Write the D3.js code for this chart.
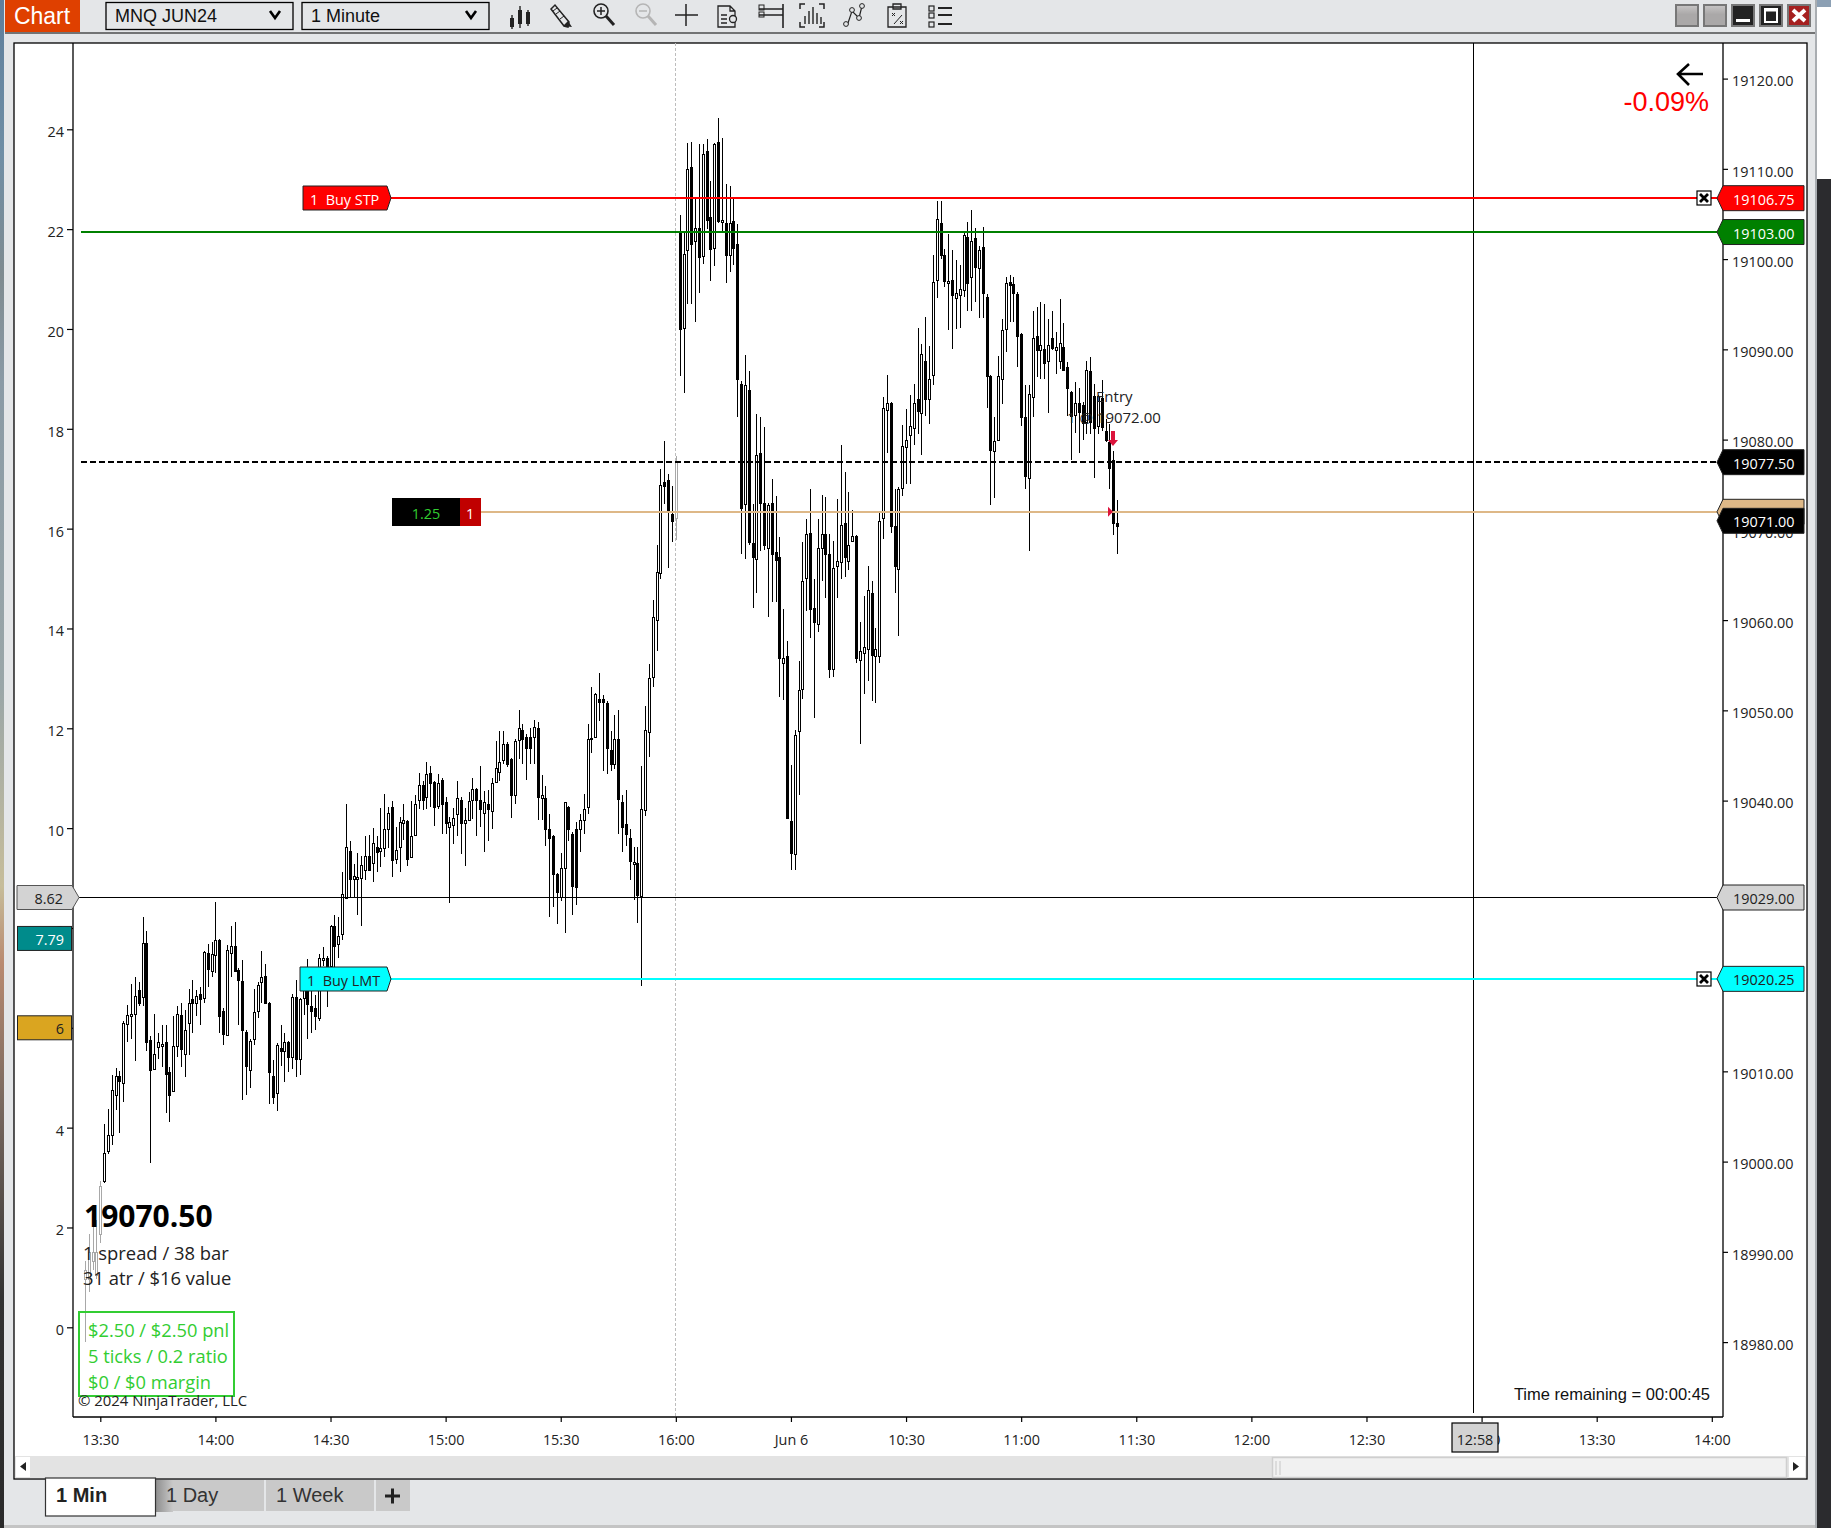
<!DOCTYPE html>
<html>
<head>
<meta charset="utf-8">
<title>MNQ JUN24</title>
<script src="https://cdn.jsdelivr.net/npm/d3@7"></script>
<style>
html,body{margin:0;padding:0;background:#e4e6e8;overflow:hidden}
svg{display:block}
text{font-family:"Open Sans",sans-serif;dominant-baseline:central}
.arial{font-family:"Liberation Sans",Arial,sans-serif}
</style>
</head>
<body>
<svg id="c" width="1831" height="1528"></svg>
<script>
// Values. Bar k of each array is bar number k-4 counted from the 13:30 bar.
const barOpen = [
18987,18987,18989,18987.5,18992,18997.8,19001.2,19002.9,19007.4,19009.5,
19008.7,19015.2,19016.1,19016.4,19019,19018.2,19024.2,19013.5,19010.2,19012.6,
19012.8,19013.2,19009.9,19007.8,19012.8,19016.2,19011.9,19015.4,19018,19017.6,
19018.6,19018.1,19023.1,19021.1,19022.9,19024.6,19016.7,19014,19023.1,19023.9,
19021.2,19020,19014.4,19010.2,19013.6,19016.7,19019.9,19020.6,19017.6,19009.5,
19007.6,19012.6,19012.2,19013.3,19011.6,19018.2,19011.4,19018.1,19019,19017.2,
19017,19016,19022.4,19022.6,19021.7,19026.1,19024.1,19025.2,19029.3,19034.4,
19031.3,19031.3,19031.5,19032.3,19033.9,19033.1,19034.9,19034.5,19034.8,19036.8,
19039.3,19033.5,19034.8,19037.6,19037.7,19033.8,19036.2,19040,19041.7,19040.3,
19043.1,19042.1,19039.4,19042.3,19039.9,19037.1,19037.3,19038.5,19040.1,19037.6,
19037.9,19040.1,19041.3,19040.1,19038.6,19039.6,19038.8,19042,19043.2,19044.5,
19046.3,19044.6,19040.6,19046.7,19047.8,19047,19047,19047.1,19048,19040.3,
19040.3,19036.9,19036.1,19031.9,19029.3,19032.5,19039.3,19036.3,19036.9,19036.9,
19037.9,19039.3,19046.8,19047,19051.3,19051.3,19050.8,19045.6,19044,19046.8,
19039.9,19037.4,19035.9,19033,19033.1,19029.5,19038.9,19047.6,19053.6,19060,
19065.3,19075.3,19075.5,19071.8,19071.3,19103,19092.4,19101,19110.2,19102,
19103.4,19100.4,19112,19104.7,19101.2,19113,19104.1,19104,19100.4,19104.2,
19101.7,19086.2,19072.8,19085.5,19068.5,19066.8,19078.5,19073,19068,19073,
19067.6,19067,19055.3,19056,19037.7,19034.1,19047.8,19052.3,19064.6,19069.7,
19061.3,19059.6,19068,19069.5,19067.3,19054.6,19066,19066.4,19070.8,19066.5,
19068.7,19069.3,19055.6,19056.3,19056.8,19063,19056,19056,19071.3,19083.3,
19084.1,19070.4,19065.6,19074.7,19079.2,19080.5,19081.3,19084.5,19083,19088.7,
19084.5,19087.2,19097.6,19104,19100.5,19097.4,19097.7,19095.7,19096,19096.6,
19102.5,19098,19102.3,19099,19101.3,19095.8,19087.1,19078.7,19080,19086.7,
19092.2,19097.5,19097.2,19096.1,19091.7,19082.5,19075.8,19084.8,19091.5,19090,
19090,19088.7,19091.3,19090,19088.7,19090.3,19088,19085.3,19082.7,19084,
19083.8,19081.9,19087.6,19084.8,19081.5,19084.6,19081,19079.7,19077.7,19070.8];
const barHigh = [
18989,18992,18993,18993.5,18997.8,19004.2,19005.8,19009.6,19010.4,19010,
19015.6,19017.3,19019.7,19020.5,19019.9,19027.1,19025.5,19013.9,19016.4,19014.2,
19015.1,19015.1,19010.5,19016.1,19017.2,19017.6,19016.8,19019.1,19020.1,19019,
19019.4,19023.3,19024.1,19024.3,19028.8,19024.7,19017,19024,19026.1,19026.5,
19021.4,19022.3,19014.6,19013.6,19019.1,19019.9,19023.3,19021.9,19017.7,19011.3,
19013.1,19015.1,19014.3,19013.4,19018.6,19020.1,19018.1,19021,19022.5,19019,
19018.5,19023,19023.8,19022.8,19026.2,19027.3,19027.1,19032.1,19039.6,19035.5,
19033,19034.2,19033.9,19036.1,19036.2,19037,19036.1,19039.2,19040.7,19039.3,
19040,19037.1,19038.2,19039.6,19037.8,19040,19040.6,19043.1,19042.2,19044.3,
19043.8,19042.2,19043,19042.5,19040.4,19038.2,19039.2,19042.2,19040.4,19039.2,
19041,19042.5,19041.4,19043.8,19041.1,19041.2,19042.5,19046.6,19047.7,19047.7,
19046.5,19044.7,19046.8,19050,19048.5,19047.4,19048,19048.9,19048.7,19042.8,
19041.6,19038.5,19036.2,19032,19034.2,19039.9,19039.4,19036.5,19037.6,19038.5,
19040.7,19048.5,19052.6,19051.9,19054.1,19051.7,19051,19047.7,19049.5,19050,
19040.6,19041.2,19036.8,19034.9,19034.9,19043.8,19050.5,19055.1,19062.2,19068.3,
19076.7,19079.9,19076.2,19074.9,19078.2,19104.9,19103,19112.9,19113,19106.7,
19112.7,19112.8,19113.3,19108.7,19112.9,19115.6,19113.4,19108.3,19108.1,19106.8,
19103.9,19086.5,19089.4,19087.6,19072.9,19082.8,19082.5,19081.4,19073,19075.6,
19073.7,19069.2,19061.2,19057.7,19044,19047.8,19055.5,19068.7,19071.2,19074.5,
19064.5,19071.2,19073.9,19073.6,19069.5,19068.8,19073.4,19079.4,19076.4,19074.2,
19072.2,19069.4,19059.8,19062.7,19066,19064.3,19059.1,19072,19084.7,19087.2,
19084.2,19074.5,19074.7,19081.6,19083.4,19084.9,19086.2,19092.4,19090.6,19093.6,
19090.4,19100.4,19106.4,19106.4,19101.1,19102.8,19101,19099.9,19099.3,19103,
19104.1,19105.4,19103.5,19101.4,19103.6,19096.1,19087.2,19082.5,19089.3,19093.4,
19098,19098.2,19098,19096.3,19091.8,19086,19086,19094.2,19094.7,19095.2,
19095,19093.4,19094.2,19091.9,19095.6,19092.9,19088.6,19085.4,19086.4,19085.7,
19084.2,19088.7,19089.2,19086.2,19084.9,19086.6,19082.3,19081.7,19078.7,19073.3];
const barLow = [
18980,18985.5,18988,18987,18991,18997.6,19000.8,19001.8,19005.7,19003.2,
19006.6,19013.2,19013.6,19011.2,19017.2,19017.2,19012.2,18999.9,19010.1,19011.4,
19010.5,19005.4,19004.4,19007.7,19011.6,19010.5,19009.4,19011.8,19014.3,19016.1,
19015.1,19017.6,19019.4,19020.4,19020.9,19014.2,19012.9,19013.9,19020.4,19021,
19015.1,19006.8,19007.4,19008.1,19012.9,19015.9,19017.6,19017.5,19006.4,19006.4,
19005.6,19010.6,19008.8,19009.9,19010.3,19009.4,19009.6,19016.2,19013.6,19014.2,
19014.6,19015.6,19021.7,19017.1,19021.5,19021.6,19022.6,19024.5,19029.2,19029.3,
19029.3,19027.3,19026.1,19031.2,19032.2,19031,19032.1,19032.6,19033.7,19034.8,
19031.5,19033,19032.1,19035.6,19032.8,19033.7,19036.1,19039.1,19039,19039.1,
19039.3,19037.2,19039.1,19036.3,19036.3,19028.6,19035.2,19036.1,19034.1,19032.8,
19037.8,19038,19036.1,19037.1,19034.3,19035.5,19036.8,19041.9,19042.2,19044.1,
19043.7,19038.1,19039.6,19044.6,19044.1,19042.3,19044.1,19044.1,19037.8,19037.9,
19035,19027.1,19028.2,19026.3,19028.9,19025.3,19035.5,19027.3,19028.4,19034.3,
19036.3,19038.5,19045.3,19046.9,19048.8,19043.3,19043,19043.3,19043.5,19036.3,
19034.3,19035,19031.2,19029,19026.4,19019.5,19038.3,19044.8,19052.6,19056.6,
19064.5,19072.9,19065.8,19068.7,19068.9,19087,19085.2,19095,19095,19093,
19096.2,19099.5,19103.3,19097.6,19099.2,19104,19103,19097.4,19098.6,19099.4,
19082.5,19067.3,19066.8,19068.3,19061.3,19063,19067.7,19067.8,19060.3,19062,
19062,19051.5,19051.1,19038,19032.3,19032.3,19040.6,19051.3,19061,19058,
19049.1,19058.7,19064.3,19062.5,19053.6,19053.7,19062.5,19064.6,19064.8,19065.5,
19068.6,19055.2,19046.3,19051.8,19053.2,19051,19050.8,19055.2,19069,19078.5,
19069.6,19063,19058.2,19073.7,19075.1,19075.1,19079.4,19080.6,19078.3,19082.6,
19081.7,19086,19095.7,19100,19096.9,19092.1,19090,19092.3,19092.4,19095.8,
19094.2,19094.2,19095.2,19093.5,19093.5,19083.5,19072.7,19073.5,19079.8,19084,
19089.7,19093,19093,19088,19081.5,19074.5,19067.7,19082.5,19086.9,19086.7,
19086.7,19083,19089.9,19087.3,19087.8,19087.6,19082.6,19077.7,19080.7,19078.5,
19080,19080.6,19080.6,19075.7,19080.6,19080.9,19079.7,19074.5,19069.4,19067.3];
const barClose = [
18988,18990,18990,18990,18997.3,19000.9,19003,19007.9,19009.5,19008.9,
19015.4,19016.2,19016.3,19018.4,19017.6,19024.2,19013.2,19010.2,19011.9,19013.2,
19013,19009.7,19007.4,19012.8,19016.4,19012.4,19014.6,19017.6,19017.6,19018.4,
19018.1,19023.2,19021.3,19023,19024.6,19016.2,19014.1,19023.4,19023.9,19021.1,
19020.1,19014.6,19010.6,19013.4,19016.6,19019.6,19020.4,19017.6,19009.9,19007.2,
19012.9,19012.3,19013.2,19011.6,19018.2,19011.3,19018,19020,19017.4,19016.6,
19016.1,19022.6,19022.6,19021.7,19026.1,19023.9,19025,19029.6,19034.9,19031.3,
19031.6,19031.5,19032.9,19033.9,19032.3,19035.3,19034.3,19034.8,19036.9,19038.6,
19033.4,19034.5,19037.6,19037.9,19033.5,19036.1,19039.6,19041.7,19040,19042.9,
19042,19039.3,19042,19039.6,19037.6,19037.6,19038.1,19040.3,19037.6,19037.9,
19040,19041.3,19040.1,19039.1,19039.8,19039,19041.9,19043.6,19044.3,19046.3,
19044.1,19040.6,19046.6,19048,19046.8,19045.8,19045.8,19048.2,19040.3,19040.6,
19036.9,19035.9,19031.9,19029.9,19032.5,19039.8,19036.9,19030.5,19030.5,19037.9,
19039.1,19046.8,19046.9,19051.8,19051,19051,19045.8,19044,19046.8,19040.1,
19037.1,19036.3,19033.3,19033.2,19029.5,19039.1,19047.8,19053.6,19060.3,19065.3,
19075,19074.9,19072.2,19071,19077.5,19092.3,19100.6,19110,19101.7,19103.4,
19100.2,19111.7,19104.4,19101.2,19112.7,19104.2,19104.3,19100.4,19104,19101.2,
19086.7,19072.5,19086,19068.7,19067,19078.3,19073,19068.3,19072.8,19067.3,
19066.7,19055.8,19055.8,19038.1,19034.1,19047.3,19052.3,19064.3,19069.5,19061.3,
19059.8,19068,19069.5,19067.3,19054.6,19065.8,19066.5,19070.5,19067,19068.3,
19069.3,19055.8,19056.6,19057,19063.3,19056.1,19056.8,19071,19083.5,19084.1,
19070.5,19066,19074.5,19079.3,19080,19081.5,19084.1,19083.2,19089.5,19084.5,
19086.7,19097.5,19104.4,19100.4,19097.6,19097.6,19096,19096.2,19096.7,19102.7,
19097.4,19102,19099.1,19101,19096.2,19087,19078.9,19079.8,19087.1,19092.1,
19097.3,19097.2,19096.2,19091.5,19082.5,19076,19085.1,19091.3,19090,19090.5,
19088.5,19090.5,19090.2,19090.3,19090.7,19087.7,19085.7,19082.6,19084,19083,
19081.8,19087.7,19081.9,19081.3,19084.8,19081.4,19080,19076.8,19070.7,19070.5];

const timeLabels = ["13:30","14:00","14:30","15:00","15:30","16:00","Jun 6","10:30","11:00","11:30","12:00","12:30","13:00","13:30","14:00"];
const priceTicks = [18980,18990,19000,19010,19020,19030,19040,19050,19060,19070,19080,19090,19100,19110,19120];
const leftTicks = [0,2,4,6,8,10,12,14,16,18,20,22,24];
const buyStop = 19106.75, targetLevel = 19103.00, lastLevel = 19077.50, entryLevel = 19072.00, currentPrice = 19071.00, buyLimit = 19020.25;
const crossValue = 8.62, crossPrice = 19029.00, tealValue = 7.79, goldValue = 6;
const crossBar = 358, sessionBar = 150;
const tabs = ["1 Min","1 Day","1 Week"];

// ---------- layout ----------
const svg = d3.select("#c");
const plot = {l:73, r:1723, t:43, b:1417};
const x = d3.scaleLinear().domain([0,420]).range([100.3,1711.8]);
const y = d3.scaleLinear().domain([18980,19120]).range([1342.1,78.6]);
const yL = d3.scaleLinear().domain([0,24]).range([1327.3,129.3]);
const FRAME = "#000";

// desktop behind the window
const defs = svg.append("defs");
const g1 = defs.append("linearGradient").attr("id","desk").attr("x1",0).attr("x2",0).attr("y1",0).attr("y2",1);
[[0,"#5f7f9c"],[.1,"#6f8ea5"],[.18,"#7f8b90"],[.25,"#8a9aa5"],[.45,"#9aa6a8"],[.58,"#c6bd9a"],[.63,"#b98a70"],[.72,"#7a6a60"],[.85,"#333"],[1,"#2a2a2a"]]
 .forEach(s=>g1.append("stop").attr("offset",s[0]).attr("stop-color",s[1]));
const g2 = defs.append("linearGradient").attr("id","tabshade").attr("x1",0).attr("x2",1).attr("y1",0).attr("y2",0);
g2.append("stop").attr("offset",0).attr("stop-color","#8c8c8c");
g2.append("stop").attr("offset",1).attr("stop-color","#c9c9c9");
const g3 = defs.append("linearGradient").attr("id","btn").attr("x1",0).attr("x2",0).attr("y1",0).attr("y2",1);
g3.append("stop").attr("offset",0).attr("stop-color","#c8c6c6");
g3.append("stop").attr("offset",.45).attr("stop-color","#aaa8a8");
g3.append("stop").attr("offset",1).attr("stop-color","#aaa8a8");

svg.append("rect").attr("width",1831).attr("height",1528).attr("fill","#e4e6e8");
svg.append("rect").attr("width",4).attr("height",1528).attr("fill","url(#desk)");
svg.append("rect").attr("x",1815).attr("width",2).attr("height",1528).attr("fill","#a9adb1");
svg.append("rect").attr("x",1817).attr("width",14).attr("height",179).attr("fill","#fff");
svg.append("rect").attr("x",1817).attr("width",14).attr("height",7).attr("fill","#8ca0b4");
svg.append("rect").attr("x",1817).attr("y",179).attr("width",14).attr("height",1349).attr("fill","#2b2b2e");
svg.append("rect").attr("x",4).attr("y",1525).attr("width",1811).attr("height",3).attr("fill","#c4c4c4");

// ---------- toolbar ----------
const tb = svg.append("g");
tb.append("rect").attr("x",5).attr("y",0).attr("width",75).attr("height",32).attr("fill","#df4000");
tb.append("text").attr("class","arial").attr("x",42).attr("y",16).attr("text-anchor","middle").attr("fill","#fff").attr("font-size",23).text("Chart");
tb.append("line").attr("x1",5).attr("x2",1815).attr("y1",33).attr("y2",33).attr("stroke","#000").attr("stroke-width",1.2);
[[106,"MNQ JUN24"],[302,"1 Minute"]].forEach(d=>{
  tb.append("rect").attr("x",d[0]).attr("y",2.5).attr("width",187).attr("height",27).attr("fill","#e4e6e8").attr("stroke","#000").attr("stroke-width",1.3);
  tb.append("text").attr("class","arial").attr("x",d[0]+9).attr("y",16).attr("font-size",18).attr("fill","#111").text(d[1]);
  tb.append("path").attr("d",`M${d[0]+164} 11 l5 7 l5 -7`).attr("fill","none").attr("stroke","#000").attr("stroke-width",2.6);
});
const ic = "#222";
function icon(path, w, col){ tb.append("path").attr("d",path).attr("fill","none").attr("stroke",col||ic).attr("stroke-width",w||1.5); }
// candles
icon("M512 15v14M520 6v22M528 10v16",1.4);
tb.append("rect").attr("x",510).attr("y",18).attr("width",4).attr("height",9).attr("fill",ic);
tb.append("rect").attr("x",518).attr("y",10).attr("width",4).attr("height",14).attr("fill",ic);
tb.append("rect").attr("x",526).attr("y",12).attr("width",4).attr("height",12).attr("fill",ic);
// pencil
icon("M551 9l4-4 14 17 -1 5 -4-1z",1.5); icon("M553 11l4-3M556 14l4-3M560 19l4-3",1);
tb.append("path").attr("d","M563 26l9 1 -4-6z").attr("fill",ic);
// zoom in / out
tb.append("circle").attr("cx",601).attr("cy",11).attr("r",7).attr("fill","none").attr("stroke",ic).attr("stroke-width",1.6);
icon("M597 11h8M601 7v8",1.5); icon("M606 16l8 9",3);
tb.append("circle").attr("cx",643).attr("cy",11).attr("r",7).attr("fill","none").attr("stroke","#b5b5b5").attr("stroke-width",1.6);
icon("M639 11h8",1.5,"#b5b5b5"); icon("M648 16l8 9",3,"#b5b5b5");
// crosshair
icon("M686 4v22M675 15h23",1.5);
// data box
icon("M718 6h12l5 5v16h-17zM730 6v5h5M721 15h6M721 19h6M721 23h6",1.3);
tb.append("circle").attr("cx",733).attr("cy",19).attr("r",3.5).attr("fill","#e4e6e8").attr("stroke",ic).attr("stroke-width",1.3);
// drawing ruler
icon("M759 9h24M759 15h24M783 4v24",1.6);
tb.append("rect").attr("x",759).attr("y",5).attr("width",5).attr("height",5).attr("fill","none").attr("stroke",ic);
tb.append("rect").attr("x",759).attr("y",12).attr("width",5).attr("height",5).attr("fill","none").attr("stroke",ic);
// auto scale bracket
icon("M805 4h-5v5M819 4h5v5M805 27h-5v-5M819 27h5v-5",1.5);
icon("M805 24v-8M809 24v-13M813 24v-17M817 24v-11M821 24v-7",1.4);
// strategies
icon("M847 26l5-15 7 7 3-12",1.2);
[[846,24],[852,10],[859,18],[862,6]].forEach(p=>tb.append("circle").attr("cx",p[0]).attr("cy",p[1]).attr("r",2.4).attr("fill","#e4e6e8").attr("stroke",ic).attr("stroke-width",1));
// clipboard
icon("M888 7h18v20h-18zM893 4h8v5h-8z",1.3); icon("M892 13l3 3M895 13l-3 3M900 21l3 3M903 21l-3 3M894 24l8-9",1);
// list
[8,15,24].forEach(v=>{ tb.append("rect").attr("x",929).attr("y",v-2).attr("width",5).attr("height",5).attr("fill","none").attr("stroke",ic).attr("stroke-width",1.2);
  tb.append("line").attr("x1",938).attr("x2",952).attr("y1",v).attr("y2",v).attr("stroke",ic).attr("stroke-width",2); });
// window buttons
[[1675,0],[1703,0],[1731,1],[1759,2],[1787,3]].forEach(d=>{
  const fill = d[1]===0 ? "url(#btn)" : d[1]===3 ? "#a52020" : "#222";
  tb.append("rect").attr("x",d[0]+1).attr("y",5).attr("width",22).attr("height",21).attr("fill",fill).attr("stroke","#777").attr("stroke-width",2);
  if(d[1]===1) tb.append("rect").attr("x",d[0]+5).attr("y",19).attr("width",14).attr("height",3).attr("fill","#fff");
  if(d[1]===2){ tb.append("rect").attr("x",d[0]+6).attr("y",9).attr("width",12).attr("height",13).attr("fill","none").attr("stroke","#fff").attr("stroke-width",2); tb.append("line").attr("x1",d[0]+6).attr("x2",d[0]+18).attr("y1",10).attr("y2",10).attr("stroke","#fff").attr("stroke-width",3);}
  if(d[1]===3) tb.append("path").attr("d",`M${d[0]+6} 10l12 11M${d[0]+18} 10l-12 11`).attr("stroke","#fff").attr("stroke-width",4);
});

// ---------- chart frame ----------
svg.append("rect").attr("x",14).attr("y",43).attr("width",1793).attr("height",1436).attr("fill","#fff").attr("stroke",FRAME).attr("stroke-width",1.3);

// scrollbar
svg.append("rect").attr("x",15).attr("y",1456).attr("width",1791).attr("height",22).attr("fill","#e3e3e3");
svg.append("rect").attr("x",16).attr("y",1457).attr("width",14).attr("height",20).attr("fill","#fff");
svg.append("path").attr("d","M26 1462v9l-6-4.5z").attr("fill","#222");
svg.append("rect").attr("x",1272.5).attr("y",1457.5).attr("width",514).attr("height",20).attr("fill","#f1f1f1").attr("stroke","#cfcfcf").attr("stroke-width",1.5);
svg.append("path").attr("d","M1276 1461v14M1280 1461v14").attr("stroke","#d5d5d5").attr("stroke-width",1.5);
svg.append("rect").attr("x",1789).attr("y",1457).attr("width",16).attr("height",20).attr("fill","#fff");
svg.append("path").attr("d","M1793 1462v9l6-4.5z").attr("fill","#222");

// ---------- session marker ----------
svg.append("line").attr("x1",Math.floor(x(sessionBar))+.5).attr("x2",Math.floor(x(sessionBar))+.5).attr("y1",plot.t).attr("y2",plot.b).attr("stroke","#bdbdbd").attr("stroke-width",1).attr("stroke-dasharray","3,2");

// ---------- candles ----------
const bars = barOpen.map((o,i)=>({n:i-4,o,h:barHigh[i],l:barLow[i],c:barClose[i]}));
const cg = svg.append("g").attr("shape-rendering","crispEdges");
function barColor(d){ return (d.n<=0 || d.n===sessionBar) ? "#a8a8a8" : "#000"; }
const sel = cg.selectAll("g.b").data(bars).enter().append("g").attr("class","b");
sel.append("line")
  .attr("x1",d=>Math.round(x(d.n))+.5).attr("x2",d=>Math.round(x(d.n))+.5)
  .attr("y1",d=>y(d.h)).attr("y2",d=>y(d.l)).attr("stroke",barColor).attr("stroke-width",1);
sel.append("rect")
  .attr("x",d=>Math.round(x(d.n))-.5).attr("width",2)
  .attr("y",d=>Math.round(y(Math.max(d.o,d.c)))+.5)
  .attr("height",d=>Math.max(1,Math.round(y(Math.min(d.o,d.c))-y(Math.max(d.o,d.c)))))
  .attr("fill",d=>d.c>=d.o ? "#fff" : barColor(d))
  .attr("stroke",barColor).attr("stroke-width",1);

// ---------- axes ----------
function styleAxis(g){ g.select(".domain").remove(); g.selectAll("line").attr("stroke","#000").attr("stroke-width",1.2);
  g.selectAll("text").attr("font-family",'"Open Sans",sans-serif').attr("font-size",14.4).attr("fill","#222"); }
const axL = svg.append("g").attr("transform",`translate(${plot.l},0)`)
  .call(d3.axisLeft(yL).tickValues(leftTicks).tickSize(6).tickPadding(3).tickFormat(d3.format("d"))).call(styleAxis);
axL.selectAll("text").attr("dy",".13em");
const axR = svg.append("g").attr("transform",`translate(${plot.r},0)`)
  .call(d3.axisRight(y).tickValues(priceTicks).tickSize(5).tickPadding(4).tickFormat(d3.format(".2f"))).call(styleAxis);
axR.selectAll("text").attr("dy",".13em");
const axB = svg.append("g").attr("transform",`translate(0,${plot.b})`)
  .call(d3.axisBottom(x).tickValues(timeLabels.map((_,i)=>i*30)).tickSize(5).tickFormat((d,i)=>timeLabels[i])).call(styleAxis);
axB.selectAll("text").attr("y",22).attr("dy",0).attr("x",0);
[[plot.l,plot.t,plot.l,plot.b],[plot.r,plot.t,plot.r,plot.b],[plot.l,plot.b,plot.r,plot.b]].forEach(a=>
  svg.append("line").attr("x1",a[0]).attr("y1",a[1]).attr("x2",a[2]).attr("y2",a[3]).attr("stroke","#000").attr("stroke-width",1.3));

// ---------- crosshair ----------
const crossY = Math.round(yL(crossValue))+.5;
const crossX = Math.floor(x(crossBar))+.5;
svg.append("line").attr("x1",crossX).attr("x2",crossX).attr("y1",plot.t).attr("y2",1413).attr("stroke","#000").attr("stroke-width",1);
svg.append("line").attr("x1",79).attr("x2",1717).attr("y1",crossY).attr("y2",crossY).attr("stroke","#000").attr("stroke-width",1);

// ---------- price levels ----------
function level(p,x1,col,extra){ const yy=Math.round(y(p)); const l=svg.append("line").attr("x1",x1).attr("x2",1717).attr("y1",yy).attr("y2",yy).attr("stroke",col).attr("stroke-width",2); if(extra) l.attr("stroke-dasharray",extra); }
level(buyStop,391,"#f00");
level(targetLevel,81,"#008000");
level(lastLevel,81,"#000","6,3");
level(entryLevel,481,"#deb887");
level(buyLimit,390,"#0ff");

function priceTag(cy,fill,txtCol,txt){
  svg.append("path").attr("d",`M1723 ${cy-12.5}H1804V${cy+12.5}H1723L1717 ${cy}Z`).attr("fill",fill).attr("stroke","#222").attr("stroke-width",1);
  if(txt) svg.append("text").attr("x",1733).attr("y",cy+1).attr("font-size",14.4).attr("fill",txtCol).text(txt);
}
priceTag(y(entryLevel),"#deb887","#000","");
priceTag(y(buyStop),"#f00","#fff",d3.format(".2f")(buyStop));
priceTag(y(targetLevel),"#008000","#fff",d3.format(".2f")(targetLevel));
priceTag(y(lastLevel),"#000","#fff",d3.format(".2f")(lastLevel));
priceTag(y(currentPrice),"#000","#fff",d3.format(".2f")(currentPrice));
priceTag(crossY,"#d3d3d3","#222",d3.format(".2f")(crossPrice));
priceTag(y(buyLimit),"#0ff","#222",d3.format(".2f")(buyLimit));

// close boxes
[buyStop,buyLimit].forEach(p=>{
  const cy=Math.round(y(p));
  svg.append("rect").attr("x",1697).attr("y",cy-7).attr("width",14).attr("height",14).attr("fill","#fff").attr("stroke","#000").attr("stroke-width",1.2);
  svg.append("path").attr("d",`M1700 ${cy-4}l8 8M1708 ${cy-4}l-8 8`).attr("stroke","#000").attr("stroke-width",2.8);
});

// order flags
function flag(x0,x1,cy,fill,col,txt){
  svg.append("path").attr("d",`M${x0} ${cy-12}H${x1-4}L${x1} ${cy}L${x1-4} ${cy+12}H${x0}Z`).attr("fill",fill).attr("stroke","#222").attr("stroke-width",1);
  svg.append("text").attr("x",x0+7).attr("y",cy+1).attr("font-size",14.4).attr("fill",col).style("white-space","pre").text(txt);
}
flag(303,391,Math.round(y(buyStop)),"#f00","#fff","1  Buy STP");
flag(300,391,Math.round(y(buyLimit)),"#0ff","#222","1  Buy LMT");

// position box
svg.append("rect").attr("x",392).attr("y",498).attr("width",68).attr("height",28).attr("fill","#000");
svg.append("rect").attr("x",460).attr("y",498).attr("width",21).attr("height",28).attr("fill","#c00000");
svg.append("text").attr("x",426).attr("y",513).attr("text-anchor","middle").attr("font-size",14.4).attr("fill","#32cd32").text("1.25");
svg.append("text").attr("x",470).attr("y",513).attr("text-anchor","middle").attr("font-size",14.4).attr("fill","#fff").text("1");

// left tags
svg.append("path").attr("d",`M17 ${crossY-12}H72L79 ${crossY}L72 ${crossY+12}H17Z`).attr("fill","#d3d3d3").attr("stroke","#555").attr("stroke-width",1);
svg.append("text").attr("x",63).attr("y",crossY+1).attr("text-anchor","end").attr("font-size",14.4).attr("fill","#222").text(crossValue);
svg.append("rect").attr("x",17.5).attr("y",yL(tealValue)-12).attr("width",54).attr("height",24).attr("fill","#008b8b").attr("stroke","#222").attr("stroke-width",1);
svg.append("text").attr("x",64).attr("y",yL(tealValue)+1).attr("text-anchor","end").attr("font-size",14.4).attr("fill","#fff").text(tealValue);
svg.append("rect").attr("x",17.5).attr("y",yL(goldValue)-12).attr("width",54).attr("height",24).attr("fill","#daa520").attr("stroke","#222").attr("stroke-width",1);
svg.append("text").attr("x",64).attr("y",yL(goldValue)+1).attr("text-anchor","end").attr("font-size",14.4).attr("fill","#222").text(goldValue);

// crosshair time tag
svg.append("rect").attr("x",1452).attr("y",1423).attr("width",46).attr("height",29).attr("fill","#d3d3d3").attr("stroke","#000").attr("stroke-width",1.2);
svg.append("text").attr("x",1475).attr("y",1439).attr("text-anchor","middle").attr("font-size",14.4).attr("fill","#222").text("12:58");

// entry marker
svg.append("text").attr("x",1096).attr("y",396).attr("font-size",15).attr("fill","#222").text("Entry");
svg.append("text").attr("x",1067).attr("y",417).attr("font-size",15).attr("fill","#222").text("1 @ 19072.00");
svg.append("path").attr("d","M1111 431h4v9h3l-5 6 -5-6h3z").attr("fill","#dc143c");
svg.append("path").attr("d",`M1108 ${y(entryLevel)-5}l5 5 -5 5z`).attr("fill","#dc143c");

// top-right direction + percent
svg.append("path").attr("d","M1703 74H1679M1689 64L1678 74L1689 85").attr("fill","none").attr("stroke","#000").attr("stroke-width",2.6);
svg.append("text").attr("class","arial").attr("x",1709).attr("y",102).attr("text-anchor","end").attr("font-size",27).attr("fill","#f00").text("-0.09%");
svg.append("text").attr("class","arial").attr("x",1710).attr("y",1394).attr("text-anchor","end").attr("font-size",16.5).attr("fill","#111").text("Time remaining = 00:00:45");

// bottom-left information
svg.append("text").attr("x",84).attr("y",1215).attr("font-size",30).attr("font-weight",700).attr("fill","#000").text("19070.50");
svg.append("text").attr("x",83).attr("y",1252).attr("font-size",18.4).attr("fill","#222").text("1 spread / 38 bar");
svg.append("text").attr("x",83).attr("y",1277).attr("font-size",18.4).attr("fill","#222").text("31 atr / $16 value");
svg.append("rect").attr("x",79).attr("y",1312).attr("width",155).attr("height",84).attr("fill","none").attr("stroke","#32cd32").attr("stroke-width",2);
[["$2.50 / $2.50 pnl",1329],["5 ticks / 0.2 ratio",1355],["$0 / $0 margin",1381]].forEach(d=>
  svg.append("text").attr("x",88).attr("y",d[1]).attr("font-size",18.3).attr("fill","#32cd32").text(d[0]));
svg.append("text").attr("x",78).attr("y",1400).attr("font-size",14.9).attr("fill","#222").text("© 2024 NinjaTrader, LLC");

// tabs
svg.append("rect").attr("x",157).attr("y",1480).attr("width",107).attr("height",31).attr("fill","#c9c9c9");
svg.append("rect").attr("x",155).attr("y",1480).attr("width",18).attr("height",32).attr("fill","url(#tabshade)");
svg.append("rect").attr("x",266).attr("y",1480).attr("width",108).attr("height",31).attr("fill","#c9c9c9");
svg.append("rect").attr("x",376).attr("y",1480).attr("width",34).attr("height",31).attr("fill","#c9c9c9");
svg.append("rect").attr("x",45.5).attr("y",1478).attr("width",110).attr("height",38).attr("fill","#fff").attr("stroke","#333").attr("stroke-width",1.2);
svg.append("text").attr("class","arial").attr("x",56).attr("y",1495).attr("font-size",20).attr("font-weight",700).attr("fill","#222").text(tabs[0]);
svg.append("text").attr("class","arial").attr("x",166).attr("y",1495).attr("font-size",20).attr("fill","#333").text(tabs[1]);
svg.append("text").attr("class","arial").attr("x",276).attr("y",1495).attr("font-size",20).attr("fill","#333").text(tabs[2]);
svg.append("path").attr("d","M385 1496h15M392.5 1488.5v15").attr("stroke","#222").attr("stroke-width",3);
</script>
</body>
</html>
